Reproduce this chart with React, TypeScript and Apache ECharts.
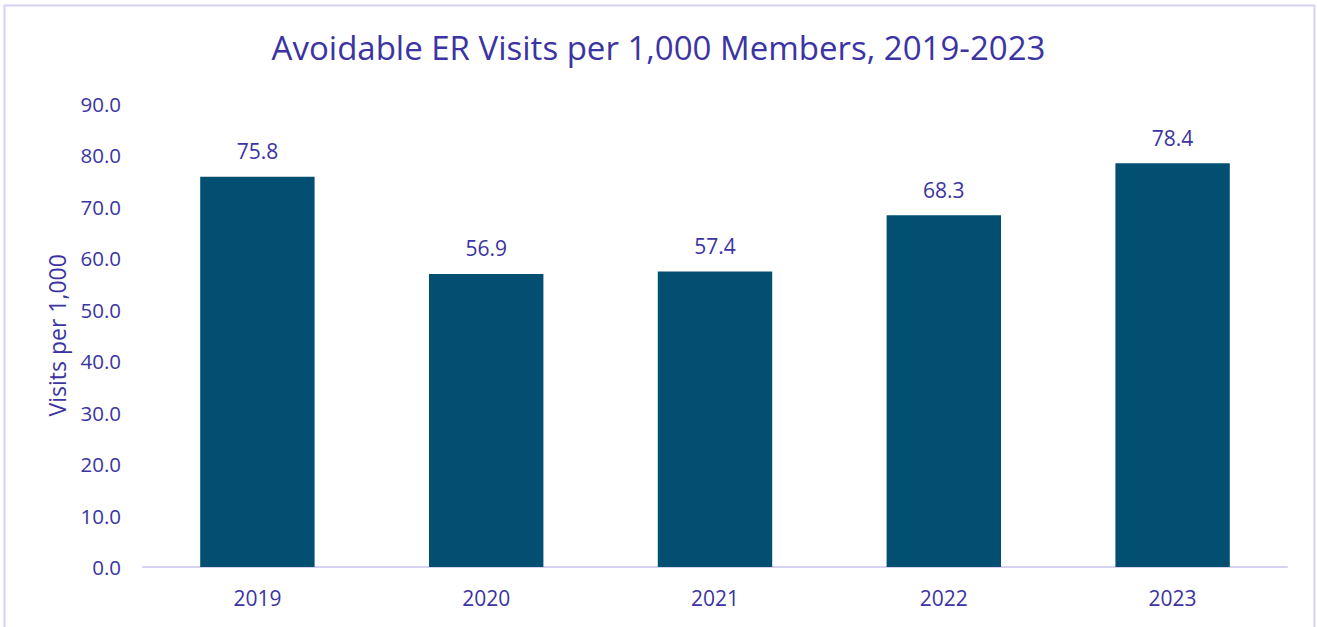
import React, { useEffect, useRef } from "react";
import * as echarts from "echarts";

const categories = ["2019", "2020", "2021", "2022", "2023"];
const visitsPer1000 = [75.8, 56.9, 57.4, 68.3, 78.4];
const titleText = "Avoidable ER Visits per 1,000 Members, 2019-2023";
const yAxisName = "Visits per 1,000";

const TEXT = "#3B34A2";
const BAR = "#024F72";
const LINE = "#D6D2F2";
const FONT = "'Open Sans', 'Noto Sans', sans-serif";

export default function App() {
  const ref = useRef<HTMLDivElement>(null);
  useEffect(() => {
    document.body.style.margin = "0";
    const chart = echarts.init(ref.current!, null, { renderer: "svg" });
    chart.setOption({
      animation: false,
      backgroundColor: "#ffffff",
      textStyle: { fontFamily: FONT },
      title: {
        text: titleText,
        left: "center",
        top: 26,
        textStyle: { color: TEXT, fontSize: 33, fontWeight: "normal", fontFamily: FONT },
      },
      graphic: [
        {
          type: "rect",
          shape: { x: 4.5, y: 5.5, width: 1310, height: 640 },
          style: { fill: "none", stroke: LINE, lineWidth: 2 },
          silent: true,
        },
      ],
      grid: { left: 143, right: 30, top: 103.5, bottom: 60, containLabel: false },
      xAxis: {
        type: "category",
        data: categories,
        axisLine: { show: true, lineStyle: { color: LINE, width: 2 } },
        axisTick: { show: false },
        axisLabel: { color: TEXT, fontSize: 21, margin: 20, fontFamily: FONT },
      },
      yAxis: {
        type: "value",
        min: 0,
        max: 90,
        interval: 10,
        name: yAxisName,
        nameLocation: "middle",
        nameGap: 75,
        nameTextStyle: { color: TEXT, fontSize: 23, fontFamily: FONT },
        axisLine: { show: false },
        axisTick: { show: false },
        splitLine: { show: false },
        axisLabel: {
          color: TEXT,
          fontSize: 20.5,
          margin: 22,
          fontFamily: FONT,
          formatter: (v: number) => v.toFixed(1),
        },
      },
      series: [
        {
          type: "bar",
          data: visitsPer1000,
          barWidth: "50%",
          itemStyle: { color: BAR },
          label: {
            show: true,
            position: "top",
            distance: 15,
            color: TEXT,
            fontSize: 21,
            fontFamily: FONT,
            formatter: (p: any) => Number(p.value).toFixed(1),
          },
        },
      ],
    });
    return () => chart.dispose();
  }, []);
  return <div ref={ref} style={{ width: 1317, height: 627 }} />;
}
